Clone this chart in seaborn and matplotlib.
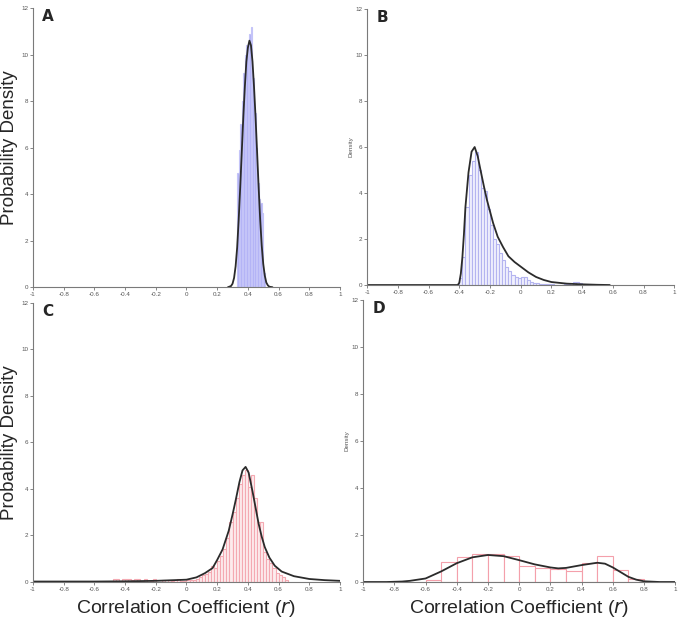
import pandas as pd
import matplotlib
matplotlib.use("Agg")
import matplotlib.pyplot as plt
import seaborn as sns

# ---- panel A (blue, narrow) ----
a_bin_start = 0.33
a_bin_width = 0.01
a_heights = [4.9, 5.9, 7.0, 8.0, 9.2, 10.0, 10.4, 10.5, 10.9, 11.2,
             9.0, 7.5, 6.0, 4.5, 3.8, 3.6, 3.2, 0.6]
a_curve_x = [0.27, 0.29, 0.30, 0.31, 0.32, 0.33, 0.34, 0.35, 0.36, 0.37, 0.38, 0.39,
             0.40, 0.41, 0.42, 0.43, 0.44, 0.45, 0.46, 0.47, 0.48, 0.49, 0.50,
             0.51, 0.52, 0.53, 0.54, 0.56]
a_curve_y = [0.0, 0.05, 0.15, 0.4, 0.9, 1.7, 2.9, 4.3, 5.8, 7.3, 8.6, 9.7,
             10.3, 10.6, 10.4, 9.7, 8.6, 7.3, 5.8, 4.3, 2.9, 1.8, 1.0,
             0.5, 0.2, 0.08, 0.02, 0.0]

# ---- panel B (blue, skewed) ----
b_bin_start = -0.40
b_bin_width = 0.02
b_heights = [0.3, 1.2, 3.4, 4.8, 5.4, 5.8, 5.0, 4.2, 4.1, 3.3,
             2.6, 2.0, 1.8, 1.4, 1.1, 0.8, 0.6, 0.45, 0.35, 0.3,
             0.35, 0.35, 0.2, 0.15, 0.1, 0.08, 0.06, 0.05, 0.04, 0.03,
             0.03, 0.02, 0.02, 0.02, 0.03, 0.05, 0.08, 0.15, 0.12, 0.08, 0.02]
b_curve_x = [-1.0, -0.41, -0.40, -0.39, -0.38, -0.37, -0.36, -0.34, -0.32, -0.30,
             -0.28, -0.265, -0.24, -0.22, -0.20, -0.18, -0.15, -0.115, -0.08,
             -0.04, 0.0, 0.05, 0.10, 0.15, 0.20, 0.30, 0.40, 0.50, 0.58]
b_curve_y = [0.0, 0.0, 0.1, 0.5, 1.2, 2.2, 3.4, 4.9, 5.8, 6.0,
             5.6, 5.1, 4.3, 3.7, 3.2, 2.7, 2.1, 1.65, 1.25,
             1.0, 0.8, 0.55, 0.35, 0.22, 0.13, 0.06, 0.03, 0.01, 0.0]

# ---- panel C (red, peaked) ----
c_bin_start = -0.50
c_bin_width = 0.02
c_heights = [0.0, 0.15, 0.12, 0.05, 0.12, 0.15, 0.15, 0.1, 0.12, 0.12,
             0.05, 0.15, 0.0, 0.05, 0.12, 0.0, 0.0, 0.08, 0.0, 0.1,
             0.05, 0.1, 0.12, 0.05, 0.05, 0.08, 0.1, 0.1, 0.15, 0.2,
             0.3, 0.35, 0.45, 0.7, 0.6, 0.9, 1.1, 1.4, 1.9, 2.6,
             3.0, 3.6, 4.2, 4.6, 4.8, 4.1, 4.6, 3.6, 2.6, 2.6,
             1.3, 1.0, 0.8, 0.6, 0.4, 0.3, 0.2, 0.1]
c_curve_x = [-1.0, -0.6, -0.4, -0.2, 0.0, 0.065, 0.12, 0.17, 0.20, 0.235, 0.275,
             0.30, 0.32, 0.345, 0.365, 0.385, 0.405, 0.43, 0.45, 0.47, 0.49,
             0.51, 0.54, 0.575, 0.62, 0.70, 0.80, 0.90, 1.0]
c_curve_y = [0.02, 0.02, 0.03, 0.05, 0.1, 0.2, 0.38, 0.6, 0.95, 1.4, 2.2,
             2.9, 3.5, 4.3, 4.8, 4.95, 4.7, 3.9, 3.2, 2.5, 1.95,
             1.5, 1.05, 0.7, 0.45, 0.25, 0.13, 0.08, 0.05]

# ---- panel D (red, bimodal) ----
d_bin_start = -0.60
d_bin_width = 0.1
d_heights = [0.1, 0.85, 1.05, 1.2, 1.18, 1.1, 0.68, 0.6, 0.55, 0.48,
             0.83, 1.12, 0.5, 0.12]
d_curve_x = [-1.0, -0.85, -0.75, -0.7, -0.6, -0.5, -0.4, -0.3, -0.2, -0.1,
             0.0, 0.1, 0.2, 0.25, 0.3, 0.4, 0.5, 0.55, 0.6, 0.65, 0.7,
             0.75, 0.8, 0.9, 1.0]
d_curve_y = [0.0, 0.0, 0.02, 0.05, 0.15, 0.45, 0.8, 1.05, 1.15, 1.1,
             0.93, 0.75, 0.62, 0.58, 0.6, 0.72, 0.82, 0.78, 0.62, 0.42, 0.22,
             0.1, 0.03, 0.0, 0.0]

x_ticks = [-1, -0.8, -0.6, -0.4, -0.2, 0, 0.2, 0.4, 0.6, 0.8, 1]
x_tick_labels = ["-1", "-0.8", "-0.6", "-0.4", "-0.2", "0", "0.2", "0.4", "0.6", "0.8", "1"]
y_ticks = [0, 2, 4, 6, 8, 10, 12]

sns.set_style("ticks")
plt.rcParams["font.family"] = ["Liberation Sans", "DejaVu Sans"]

fig = plt.figure(figsize=(6.8, 6.23), dpi=100)
ax_a = fig.add_axes([0.0485, 0.539, 0.4515, 0.448])
ax_b = fig.add_axes([0.540, 0.5425, 0.4515, 0.443])
ax_c = fig.add_axes([0.0485, 0.0658, 0.4515, 0.448])
ax_d = fig.add_axes([0.534, 0.0658, 0.459, 0.4526])

panels = [
    (ax_a, "A", a_bin_start, a_bin_width, a_heights, a_curve_x, a_curve_y, "#b3b3f6", "#c4c4f8"),
    (ax_b, "B", b_bin_start, b_bin_width, b_heights, b_curve_x, b_curve_y, "#f1f1fd", "#b4b4f0"),
    (ax_c, "C", c_bin_start, c_bin_width, c_heights, c_curve_x, c_curve_y, "#fdecee", "#f4a9b2"),
    (ax_d, "D", d_bin_start, d_bin_width, d_heights, d_curve_x, d_curve_y, "#ffffff", "#f4a0ab"),
]

for ax, letter, start, width, heights, cx, cy, face, edge in panels:
    n = len(heights)
    edges = [round(start + width * i, 4) for i in range(n + 1)]
    centers = [round(e + width / 2, 5) for e in edges[:-1]]
    hist_df = pd.DataFrame({"r": centers, "h": heights})
    sns.histplot(data=hist_df, x="r", weights="h", bins=edges,
                 color=face, alpha=1.0, ax=ax)
    for patch in ax.patches:
        patch.set_facecolor(face)
        patch.set_edgecolor(edge)
        patch.set_linewidth(0.8)
    curve_df = pd.DataFrame({"r": cx, "d": cy})
    sns.lineplot(data=curve_df, x="r", y="d", color="#2b2b2b", linewidth=1.3,
                 sort=False, ax=ax)

    ax.set_xlim(-1, 1)
    ax.set_ylim(0, 12)
    ax.set_xticks(x_ticks)
    ax.set_xticklabels(x_tick_labels)
    ax.set_yticks(y_ticks)
    ax.tick_params(labelsize=4.5, length=2, width=0.5, colors="#555555", pad=1.5)
    for s in ["top", "right"]:
        ax.spines[s].set_visible(False)
    for s in ["left", "bottom"]:
        ax.spines[s].set_color("#7a7a7a")
        ax.spines[s].set_linewidth(0.8)
    ax.set_xlabel("")
    ax.set_ylabel("")
    ax.text(0.03, 0.995, letter, transform=ax.transAxes, fontsize=11,
            fontweight="bold", va="top", ha="left", family="DejaVu Sans")

for ax in [ax_a, ax_c]:
    ax.set_ylabel("Probability Density", fontsize=13.5)
    ax.yaxis.set_label_coords(-0.049, 0.5)
for ax in [ax_b, ax_d]:
    ax.set_ylabel("Density", fontsize=4.5, color="#555555")
    ax.yaxis.set_label_coords(-0.045, 0.5)
for ax in [ax_c, ax_d]:
    ax.set_xlabel(r"Correlation Coefficient ($\it{r}$)", fontsize=14)
    ax.xaxis.set_label_coords(0.5, -0.058)

fig.savefig("out.png", dpi=100, facecolor="white")
